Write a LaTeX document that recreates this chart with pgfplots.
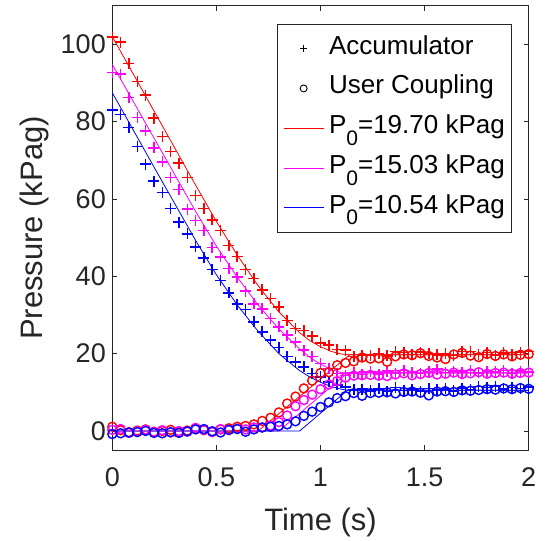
\documentclass[border=0pt]{standalone}
\usepackage{fontspec}
\setmainfont{Liberation Sans}
\usepackage{pgfplots}
\usepackage{pgfplotstable}
\pgfplotsset{compat=1.18}

\definecolor{axgray}{rgb}{0.15,0.15,0.15}
\definecolor{mred}{rgb}{1,0,0}
\definecolor{mmag}{rgb}{1,0,1}
\definecolor{mblue}{rgb}{0,0,1}

% measured pressures: accumulator (a) and user coupling (u), red/magenta/blue runs
\pgfplotstableread{
t    ra    ma    ba    ru    mu    bu
0.00 101.9 92.7  83.0  1.1   0.3   -0.8
0.04 100.6 92.3  81.8  0.2   0.5   -0.6
0.08 95.1  86.2  78.5  -0.3  -0.5  -0.4
0.12 90.4  81.1  73.6  0.1   -0.1  -0.3
0.16 86.9  77.6  69.0  0.4   0.3   0.0
0.20 80.9  73.2  64.6  -0.2  -0.3  -0.5
0.24 76.2  69.6  61.7  0.0   0.2   -0.6
0.28 72.3  65.6  57.6  0.3   -0.4  -0.3
0.32 69.3  62.4  54.0  -0.4  0.0   -0.5
0.36 65.6  57.4  51.0  0.1   -0.2  -0.1
0.40 60.9  54.4  47.6  0.6   0.8   0.4
0.44 57.5  51.8  44.8  0.2   0.3   0.5
0.48 54.6  47.5  41.7  -0.1  -0.3  -0.1
0.52 51.8  45.0  38.9  0.4   0.5   -0.4
0.56 48.0  42.0  35.7  0.7   0.2   0.3
0.60 45.1  39.8  32.8  1.1   0.6   0.5
0.64 41.7  36.2  31.4  1.3   0.4   -0.2
0.68 39.4  32.9  28.2  1.7   0.9   0.4
0.72 36.5  31.6  25.6  2.6   0.9   0.9
0.76 34.2  29.1  23.5  3.4   1.4   1.1
0.80 32.1  26.9  21.6  4.8   2.3   1.3
0.84 28.6  24.8  19.2  7.1   4.0   1.7
0.88 26.5  23.0  17.8  8.9   6.4   2.5
0.92 26.0  20.9  16.6  11.0  8.0   3.9
0.96 24.5  19.2  14.9  13.0  9.4   5.0
1.00 22.8  17.5  14.0  15.0  10.8  6.2
1.04 22.2  16.2  12.7  15.2  12.0  7.4
1.08 21.1  14.9  11.9  17.0  12.9  8.5
1.12 20.9  14.4  11.4  17.6  13.8  9.0
1.16 19.3  15.0  10.6  18.0  14.3  9.8
1.20 19.6  14.6  10.8  19.0  14.4  9.1
1.24 19.5  15.3  10.4  18.7  14.5  9.8
1.28 20.1  14.7  10.9  18.8  14.3  9.9
1.32 19.4  15.5  10.2  17.9  14.2  10.0
1.36 20.6  14.9  11.3  19.3  14.6  9.7
1.40 20.3  15.6  10.5  19.8  14.9  10.1
1.44 19.8  15.2  10.8  19.6  14.4  10.2
1.48 20.4  14.8  10.3  20.1  14.7  9.9
1.52 20.1  15.4  11.0  19.4  15.0  9.2
1.56 19.7  16.0  10.6  19.0  14.6  10.2
1.60 20.0  15.1  10.9  18.6  14.8  10.3
1.64 19.5  15.5  10.4  19.8  15.1  10.1
1.68 20.5  15.2  11.1  20.2  14.7  10.5
1.72 20.6  15.7  10.7  19.5  14.9  10.4
1.76 19.9  15.0  11.5  19.1  15.2  10.6
1.80 20.3  15.4  11.2  19.9  14.8  10.8
1.84 19.6  15.3  11.6  19.4  15.0  10.7
1.88 20.2  15.6  10.9  19.8  15.1  11.0
1.92 19.8  14.9  11.3  19.3  14.8  10.8
1.96 20.4  15.5  11.0  19.7  15.0  11.1
2.00 20.5  15.3  11.4  19.9  15.1  10.9
}\meas

\newcommand{\pzero}[1]{P\raisebox{-11.7bp}{\fontsize{21bp}{21bp}\selectfont 0}=#1 kPag}

\begin{document}
\begin{tikzpicture}
\begin{axis}[
  scale only axis, width=416.4bp, height=444.6bp,
  xmin=0, xmax=2, ymin=-5, ymax=110,
  xtick={0,0.5,1,1.5,2}, ytick={0,20,40,60,80,100},
  tick pos=both, tick align=inside, major tick length=5bp,
  axis line style={axgray, line width=0.9bp},
  tick style={axgray, line width=0.9bp},
  /pgf/number format/assume math mode=true,
  ticklabel style={font=\fontsize{27bp}{30bp}\selectfont, text=axgray},
  xticklabel style={yshift=-14bp},
  yticklabel style={xshift=-3bp},
  xlabel={Time (s)}, ylabel={Pressure (kPag)},
  label style={font=\fontsize{31bp}{34bp}\selectfont, text=axgray},
  xlabel style={at={(axis description cs:0.5,-0.18)}, anchor=base},
  ylabel style={at={(axis description cs:-0.168,0.5)}, anchor=base},
  clip=false,
  legend image code/.code={\draw[mark repeat=2,mark phase=2] plot coordinates {(0bp,0bp) (20bp,0bp) (40bp,0bp)};},
  legend cell align=left,
  legend style={at={(1,1)}, anchor=north east, xshift=-17.7bp, yshift=-18.3bp,
    draw=axgray, fill=white, inner xsep=6bp, inner ysep=11bp,
    font=\fontsize{26bp}{30bp}\selectfont, text=black,
    nodes={inner sep=0bp, text height=19bp, text depth=8bp},
    row sep=12.75bp, column sep=5bp},
]
\addlegendimage{only marks, mark=+, black, mark size=3.5bp, line width=0.9bp}
\addlegendentry{Accumulator}
\addlegendimage{only marks, mark=o, black, mark size=3.5bp, line width=0.9bp}
\addlegendentry{User Coupling}

% measurements
\addplot[forget plot, only marks, mark=+, mark size=5.5bp, line width=1.5bp, mred] table[x=t, y=ra]{\meas};
\addplot[forget plot, only marks, mark=+, mark size=5.5bp, line width=1.5bp, mmag] table[x=t, y=ma]{\meas};
\addplot[forget plot, only marks, mark=+, mark size=5.5bp, line width=1.5bp, mblue] table[x=t, y=ba]{\meas};
\addplot[forget plot, only marks, mark=o, mark size=4.5bp, line width=1.4bp, mred] table[x=t, y=ru]{\meas};
\addplot[forget plot, only marks, mark=o, mark size=4.5bp, line width=1.4bp, mmag] table[x=t, y=mu]{\meas};
\addplot[forget plot, only marks, mark=o, mark size=4.5bp, line width=1.4bp, mblue] table[x=t, y=bu]{\meas};

% model
\addplot[no marks, mred, line width=0.8bp] coordinates {
  (0,102) (0.1,92.4) (0.2,82.8) (0.3,73.2) (0.4,63.6) (0.5,54.2) (0.6,45.5)
  (0.7,37.6) (0.8,30.8) (0.9,25.4) (0.95,23.3) (1.0,21.8) (1.05,20.6)
  (1.1,19.9) (1.14,19.7) (2,19.7)};
\addlegendentry{\pzero{19.70}}
\addplot[no marks, mmag, line width=0.8bp] coordinates {
  (0,94.8) (0.1,85.3) (0.2,75.8) (0.3,66.3) (0.4,56.8) (0.5,47.8) (0.6,39.8)
  (0.7,32.6) (0.8,26.4) (0.9,21.2) (0.95,19.0) (1.0,17.3) (1.05,15.9)
  (1.1,15.1) (1.13,15.03) (2,15.03)};
\addlegendentry{\pzero{15.03}}
\addplot[no marks, mblue, line width=0.8bp] coordinates {
  (0,87.5) (0.1,77.9) (0.2,68.3) (0.3,58.8) (0.4,49.3) (0.5,40.4) (0.6,32.6)
  (0.7,25.8) (0.8,20.0) (0.9,15.6) (0.95,13.9) (1.0,12.6) (1.05,11.5)
  (1.1,10.8) (1.13,10.54) (2,10.54)};
\addlegendentry{\pzero{10.54}}
\addplot[forget plot, no marks, mred, line width=0.8bp] coordinates {(0,0) (0.7,0) (1.14,19.7) (2,19.7)};
\addplot[forget plot, no marks, mmag, line width=0.8bp] coordinates {(0,0) (0.8,0) (1.13,15.03) (2,15.03)};
\addplot[forget plot, no marks, mblue, line width=0.8bp] coordinates {(0,0) (0.9,0) (1.13,10.54) (2,10.54)};

\path ([shift={(-112.3bp,-88.7bp)}]rel axis cs:0,0) rectangle ([shift={(17.3bp,5.7bp)}]rel axis cs:1,1);
\end{axis}
\end{tikzpicture}
\end{document}
